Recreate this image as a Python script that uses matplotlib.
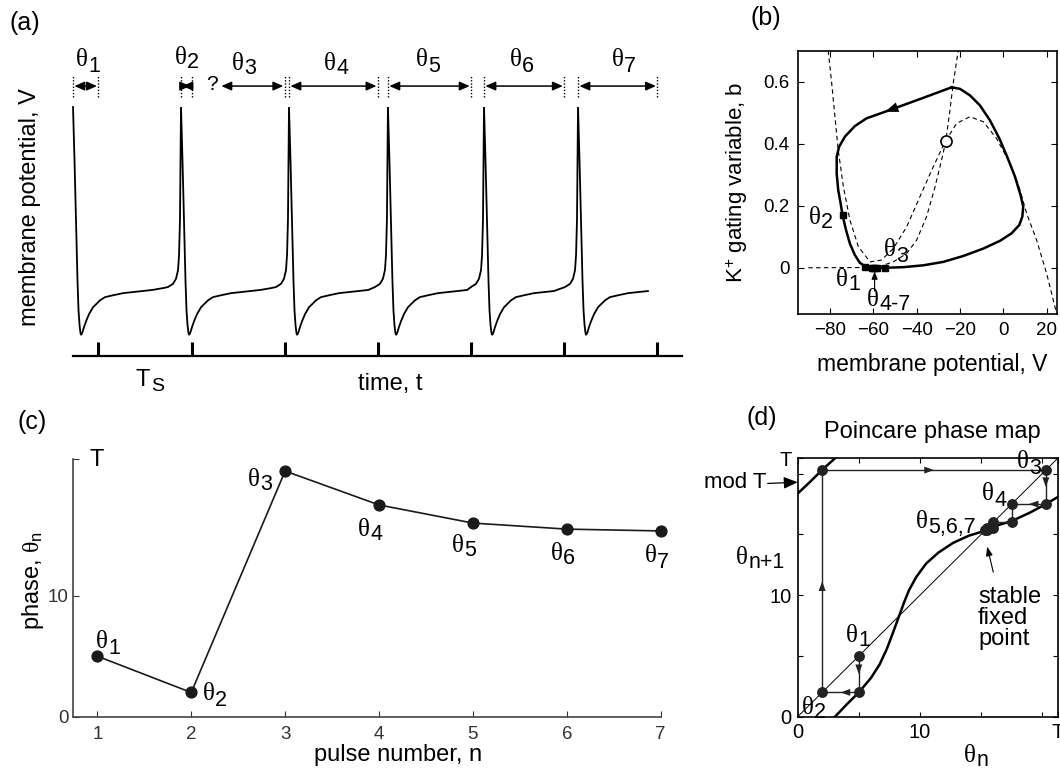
#!/usr/bin/env python3
"""Phase resetting of a spiking neuron by a periodic pulse train.

(a) voltage trace with stimulus pulses, (b) phase plane with limit cycle,
(c) phase at each pulse, (d) Poincare phase map with cobweb.
"""

import matplotlib
matplotlib.use("Agg")
import matplotlib.pyplot as plt
import numpy as np

W, H, DPI = 1060, 772, 100
SANS, SERIF = "Liberation Sans", "Liberation Serif"

plt.rcParams["font.family"] = SANS
plt.rcParams["mathtext.fontset"] = "custom"
plt.rcParams["mathtext.rm"] = SANS
plt.rcParams["mathtext.it"] = SERIF
plt.rcParams["mathtext.sf"] = SANS
plt.rcParams["mathtext.bf"] = SANS + ":bold"

# ── (a) voltage trace, time in units of the stimulus period Ts ────────────────
pulse_times = [1, 2, 3, 4, 5, 6, 7]
spike_times = [0.728, 1.887, 3.046, 4.108, 5.139, 6.148]
trace_end = 6.996
theta3_start = 2.305          # the "?" : no spike between pulses 2 and 3

# one action potential: time after the peak, V (mV)
ap_fall_t = [0, 0.016, 0.032, 0.048, 0.059, 0.070, 0.080, 0.088, 0.102,
             0.118, 0.140, 0.172, 0.215, 0.258, 0.290, 0.343, 0.429, 0.537,
             0.644, 0.750, 0.850, 0.966]
ap_fall_v = [10, -10.0, -32.6, -55.3, -66.6, -72.2, -75.2, -76.0, -74.9,
             -73.0, -70.8, -68.1, -65.5, -64.0, -62.9, -61.7, -61.0, -60.2,
             -59.8, -59.4, -59.0, -58.3]
# upstroke: time before the next peak, V (mV)
ap_rise_t = [-0.140, -0.086, -0.054, -0.032, -0.021, -0.011, -0.005, 0]
ap_rise_v = [-57.9, -56.7, -54.8, -51.5, -45.8, -32.6, -10.0, 10]

# ── (b) phase plane: membrane potential V (mV), K+ gating variable b ──────────
cycle_v = [-23.8, -38.5, -54.6, -63.1, -68.5, -73.1, -75.8, -76.9, -76.9,
           -76.2, -75.1, -74.2, -72.6, -70.8, -68.5, -66.2, -63.8, -60.0,
           -54.6, -46.2, -36.9, -27.7, -18.5, -9.2, -1.5, 3.8, 7.4, 8.8, 9.2,
           8.0, 5.4, 1.8, -1.8, -6.2, -10.8, -15.4, -20.0, -23.8]
cycle_b = [0.582, 0.544, 0.503, 0.482, 0.457, 0.423, 0.390, 0.358, 0.304,
           0.251, 0.208, 0.170, 0.122, 0.078, 0.041, 0.016, 0.005, 0.001,
           0.000, 0.002, 0.008, 0.019, 0.038, 0.062, 0.087, 0.111, 0.138,
           0.165, 0.197, 0.234, 0.294, 0.358, 0.417, 0.476, 0.524, 0.556,
           0.577, 0.582]
vnull_v = [-80.8, -79.2, -77.7, -76.2, -73.8, -70.8, -66.9, -61.5, -56.2,
           -50.8, -44.6, -38.5, -32.3, -26.9, -21.5, -15.4, -9.2, -3.1, 3.1,
           7.7, 10.8, 15.4, 20.0, 24.6]
vnull_b = [0.700, 0.595, 0.487, 0.380, 0.261, 0.154, 0.068, 0.019, 0.025,
           0.062, 0.132, 0.229, 0.326, 0.406, 0.466, 0.487, 0.471, 0.417,
           0.337, 0.251, 0.175, 0.089, -0.018, -0.147]
bnull_v = [-90.0, -64.6, -56.9, -50.8, -44.6, -40.0, -35.4, -31.5, -28.5,
           -26.6, -24.6, -23.1, -20.8]
bnull_b = [0.000, 0.001, 0.005, 0.019, 0.046, 0.089, 0.165, 0.261, 0.347,
           0.406, 0.509, 0.595, 0.700]
fixed_v, fixed_b = -26.6, 0.408
phase_v = [-63.8, -74.2, -54.6, -58.3, -59.4, -60.2, -60.8]   # theta_1..7
phase_b = [0.004, 0.170, 0.000, 0.000, 0.000, 0.000, 0.000]

# ── (c), (d) phases and the phase map ─────────────────────────────────────────
T = 21.27
pulse_n = [1, 2, 3, 4, 5, 6, 7]
theta = [5.0, 2.0, 20.3, 17.5, 16.0, 15.5, 15.35]
map_theta = [0, 1.0, 2.0, 3.05, 4.0, 5.0, 6.0, 6.7, 7.3, 7.9, 8.3, 8.7, 9.1,
             9.7, 10.5, 11.5, 12.7, 14.0, 15.3, 16.5, 17.5, 19.0, 20.3, 21.3]
map_next = [-2.9, -1.95, -0.95, 0.0, 1.0, 2.0, 3.2, 4.3, 5.6, 7.2, 8.3, 9.4,
            10.4, 11.5, 12.6, 13.5, 14.3, 14.9, 15.3, 15.8, 16.1, 16.8, 17.5,
            18.1]


def frac(left, top, right, bottom):
    """Axes rectangle from reference pixel edges."""
    return [left / W, 1 - bottom / H, (right - left) / W, (bottom - top) / H]


fig = plt.figure(figsize=(W / DPI, H / DPI), dpi=DPI)
renderer = fig.canvas.get_renderer()

# ── (a) ───────────────────────────────────────────────────────────────────────
ax_a = fig.add_axes(frac(73.2, 50, 682, 356))
tt, vv = [], []
for i, t0 in enumerate(spike_times):
    t1 = spike_times[i + 1] if i + 1 < len(spike_times) else None
    for dt, v in zip(ap_fall_t, ap_fall_v):
        if (t1 is None and t0 + dt <= trace_end) or \
           (t1 is not None and t0 + dt < t1 + ap_rise_t[0] - 0.02):
            tt.append(t0 + dt)
            vv.append(v)
    if t1 is not None:
        for dt, v in zip(ap_rise_t[:-1], ap_rise_v[:-1]):
            tt.append(t1 + dt)
            vv.append(v)
ax_a.plot(tt, vv, color="k", lw=1.3, clip_on=False, solid_joinstyle="miter")

y_arr = 17.9
ax_a.vlines(spike_times + pulse_times, 13.8, 22.1, colors="k",
            linestyles=(0, (1, 1.3)), lw=1.0, clip_on=False)
starts = spike_times[:2] + [theta3_start] + spike_times[2:]
for s, e in zip(starts, pulse_times):
    ax_a.annotate("", xy=(e, y_arr), xytext=(s, y_arr), annotation_clip=False,
                  arrowprops=dict(arrowstyle="<|-|>,head_length=0.5,head_width=0.22",
                                  mutation_scale=12, color="k", lw=1.1,
                                  shrinkA=1, shrinkB=1))
ax_a.set_xlim(0.73, 7.264)
ax_a.set_ylim(-83.9, 31.5)
ax_a.set_xticks(pulse_times)
ax_a.set_xticklabels([])
ax_a.set_yticks([])
ax_a.tick_params(axis="x", direction="in", length=10.3, width=2.2)
for side in ("top", "left", "right"):
    ax_a.spines[side].set_visible(False)
ax_a.spines["bottom"].set_linewidth(1.6)
ax_a.patch.set_visible(False)

# ── (b) ───────────────────────────────────────────────────────────────────────
ax_b = fig.add_axes(frac(797.7, 50.7, 1057, 314))
dash = dict(color="k", lw=0.8, ls=(0, (4, 3)))
ax_b.plot(vnull_v, vnull_b, **dash)
ax_b.plot(bnull_v, bnull_b, **dash)
ax_b.plot(cycle_v, cycle_b, color="k", lw=1.8)
ax_b.annotate("", xy=(cycle_v[2], cycle_b[2]), xytext=(cycle_v[1], cycle_b[1]),
              arrowprops=dict(arrowstyle="-|>,head_length=0.8,head_width=0.3",
                              mutation_scale=12, color="k", lw=0, shrinkA=0,
                              shrinkB=0))
ax_b.plot(phase_v, phase_b, "s", color="k", ms=4.5)
ax_b.plot(fixed_v, fixed_b, "o", mfc="w", mec="k", ms=8, mew=1.2)
ax_b.annotate("", xy=(phase_v[4], -0.012), xytext=(phase_v[4], -0.075),
              arrowprops=dict(arrowstyle="-|>,head_length=0.5,head_width=0.2",
                              mutation_scale=9, color="k", lw=0.8,
                              shrinkA=0, shrinkB=0))
ax_b.set_xlim(-94.9, 24.8)
ax_b.set_ylim(-0.149, 0.7)
ax_b.set_xticks([-80, -60, -40, -20, 0, 20])
ax_b.set_yticks([0, 0.2, 0.4, 0.6])
ax_b.set_yticklabels(["0", "0.2", "0.4", "0.6"])
ax_b.tick_params(direction="in", top=True, right=True, length=4.3, width=0.8,
                 labelsize=13.5, pad=6)
for sp in ax_b.spines.values():
    sp.set_linewidth(1.2)

# ── (c) ───────────────────────────────────────────────────────────────────────
ax_c = fig.add_axes(frac(73.3, 459.3, 660.7, 716.7))
ax_c.plot(pulse_n, theta, "-o", color="#1a1a1a", lw=1.2, ms=7.8, clip_on=False)
ax_c.set_xlim(0.744, 7)
ax_c.set_ylim(0, T)
ax_c.set_xticks(pulse_n)
ax_c.set_yticks([0, 10, T])
ax_c.set_yticklabels(["0", "10", ""])
ax_c.tick_params(direction="in", length=4, width=0.8, labelsize=13.5,
                 colors="#333333")
ax_c.tick_params(axis="x", pad=7)
for side in ("top", "right"):
    ax_c.spines[side].set_visible(False)
for side in ("bottom", "left"):
    ax_c.spines[side].set_color("#444444")
    ax_c.spines[side].set_linewidth(1.2)

# ── (d) ───────────────────────────────────────────────────────────────────────
ax_d = fig.add_axes(frac(797.7, 458.3, 1057.7, 716.7))
ax_d.plot([0, T], [0, T], color="k", lw=0.7)
ax_d.plot(map_theta, map_next, color="k", lw=1.8)
ax_d.plot(map_theta, np.array(map_next) + T, color="k", lw=1.8)   # mod T

path_x, path_y = [theta[0]], [theta[0]]
for a, b in zip(theta[:-1], theta[1:]):
    path_x += [a, b]
    path_y += [b, b]
ax_d.plot(path_x, path_y, "-o", color="#222222", lw=1.0, ms=6.8)
for k in range(6):
    x0, y0, x1, y1 = path_x[k], path_y[k], path_x[k + 1], path_y[k + 1]
    mx, my = (x0 + x1) / 2, (y0 + y1) / 2
    ax_d.annotate("", xy=(mx, my), xytext=(mx - 0.02 * (x1 - x0), my - 0.02 * (y1 - y0)),
                  arrowprops=dict(arrowstyle="-|>,head_length=0.7,head_width=0.25",
                                  mutation_scale=10, color="#222222", lw=0,
                                  shrinkA=0, shrinkB=0))
ax_d.annotate("", xy=(15.5, 14.0), xytext=(16.0, 11.9),
              arrowprops=dict(arrowstyle="-|>,head_length=0.6,head_width=0.22",
                              mutation_scale=9, color="k", lw=0.8,
                              shrinkA=0, shrinkB=0))
ax_d.annotate("", xy=(0, 19.3), xytext=(-2.45, 19.2), annotation_clip=False,
              arrowprops=dict(arrowstyle="-|>,head_length=0.7,head_width=0.3",
                              mutation_scale=12, color="k", lw=0.9,
                              shrinkA=0, shrinkB=0))
ax_d.set_xlim(0, T)
ax_d.set_ylim(0, T)
ticks_d = [0, 5, 10, 15, 20, T]
labels_d = ["0", "", "10", "", "", "T"]
ax_d.set_xticks(ticks_d)
ax_d.set_xticklabels(labels_d)
ax_d.set_yticks(ticks_d)
ax_d.set_yticklabels(labels_d)
ax_d.tick_params(direction="in", top=True, right=True, length=3.8, width=0.8,
                 labelsize=14.5, pad=4.5)
for sp in ax_d.spines.values():
    sp.set_linewidth(1.2)

# ── text overlay in reference pixels ──────────────────────────────────────────
ov = fig.add_axes([0, 0, 1, 1], zorder=10)
ov.set_xlim(0, W)
ov.set_ylim(H, 0)
ov.axis("off")


def sub_text(x, y, main, sub, fs=18, sfs=15.5, drop=5, family=SERIF):
    """main symbol with a large subscript; (x, y) = left edge, glyph centre."""
    base = y + 0.34 * fs * DPI / 72
    t = ov.text(x, base, main, family=family, fontsize=fs, va="baseline")
    w = t.get_window_extent(renderer).width
    ov.text(x + w + 0.3, base + drop, sub, fontsize=sfs, va="baseline")


for lbl, (x, y) in {"(a)": (25, 23), "(b)": (766, 18),
                    "(c)": (32, 422), "(d)": (762, 418)}.items():
    ov.text(x, y, lbl, fontsize=18, ha="center", va="center")

# (a)
for n, (x, y) in enumerate([(76, 58), (175, 55), (232, 61), (324, 61),
                            (416, 58), (510, 58), (612, 58)], start=1):
    sub_text(x, y, "θ", str(n))
ov.text(212, 85, "?", fontsize=15, ha="center", va="center")
sub_text(136, 378, "T", "S", fs=17, sfs=14, drop=5, family=SANS)
ov.text(390, 384, "time, t", fontsize=17, ha="center", va="center")
ov.text(30, 88, "membrane potential, V", fontsize=17, rotation=90,
        ha="center", va="top")

# (b)
sub_text(809, 215, "θ", "2")
sub_text(836, 277, "θ", "1")
sub_text(884, 248, "θ", "3")
sub_text(867, 297, "θ", "4-7")
ov.text(932, 365, "membrane potential, V", fontsize=16.5, ha="center", va="center")
ov.text(750, 182, "K$^{+}$ gating variable, b", fontsize=16, rotation=90,
        ha="right", va="center")

# (c)
for n, (x, y) in enumerate([(96, 640), (203, 692), (248, 477), (358, 527),
                            (452, 543), (551, 551), (645, 554)], start=1):
    sub_text(x, y, "θ", str(n))
ov.text(89, 460, "T", fontsize=17, ha="left", va="center")
ov.text(46, 581, r"phase, $\theta_{\mathrm{n}}$", fontsize=17, rotation=90,
        ha="right", va="center")
ov.text(398, 755, "pulse number, n", fontsize=17, ha="center", va="center")

# (d)
ov.text(932, 432, "Poincare phase map", fontsize=17, ha="center", va="center")
sub_text(846, 633, "θ", "1")
sub_text(802, 705, "θ", "2")
sub_text(1017, 460, "θ", "3")
sub_text(982, 492, "θ", "4")
sub_text(916, 520, "θ", "5,6,7")
sub_text(736, 555, "θ", "n+1")
sub_text(964, 753, "θ", "n")
ov.text(978, 618, "stable\nfixed\npoint", fontsize=17, ha="left", va="center",
        linespacing=0.95)
ov.text(766, 483, "mod T", fontsize=16, ha="right", va="center")

fig.savefig("out.png", dpi=DPI)
